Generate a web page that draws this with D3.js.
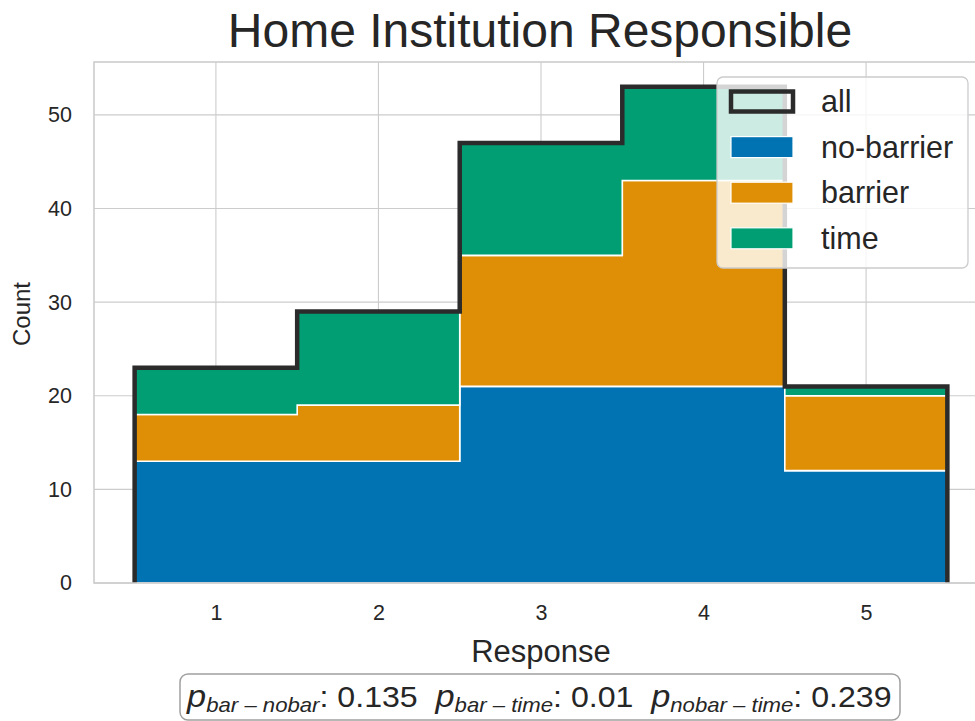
<!DOCTYPE html>
<html><head><meta charset="utf-8">
<script src="https://cdn.jsdelivr.net/npm/d3@7"></script>
<style>body{margin:0;background:#fff}svg{display:block}text{font-family:"Liberation Sans",Arial,sans-serif;fill:#262626}</style>
</head><body><svg id="c" width="975" height="721"></svg>
<script>
const categories = [1, 2, 3, 4, 5];
const noBarrier = [13, 13, 21, 21, 12];
const barrier = [5, 6, 14, 22, 8];
const time = [5, 10, 12, 10, 1];
const yTicks = [0, 10, 20, 30, 40, 50];
const seriesNames = ["no-barrier", "barrier", "time"];
const seriesColors = ["#0173b2", "#de8f05", "#029e73"];
const pLabels = [["bar – nobar", "0.135"], ["bar – time", "0.01"], ["nobar – time", "0.239"]];

const svg = d3.select("#c");
const L = 94, R = 988, T = 62, B = 583;
const totals = categories.map((c, i) => noBarrier[i] + barrier[i] + time[i]);
const x = d3.scaleLinear().domain([0.25, 5.75]).range([L, R]);
const y = d3.scaleLinear().domain([0, d3.max(totals) * 1.05]).range([B, T]);

// grid
const g = svg.append("g");
g.selectAll(".vg").data(categories).join("line").attr("x1", d => x(d)).attr("x2", d => x(d)).attr("y1", T).attr("y2", B).attr("stroke", "#cccccc").attr("stroke-width", 1.1);
g.selectAll(".hg").data(yTicks).join("line").attr("x1", L).attr("x2", R).attr("y1", d => y(d)).attr("y2", d => y(d)).attr("stroke", "#cccccc").attr("stroke-width", 1.1);

// stacked step areas
const stacked = d3.stack().keys([0, 1, 2]).value((d, k) => [noBarrier, barrier, time][k][d])(categories.map((c, i) => i));
function stepPts(vals) {
  const pts = [];
  categories.forEach((c, i) => { pts.push([c - 0.5, vals[i]]); pts.push([c + 0.5, vals[i]]); });
  return pts;
}
stacked.forEach((layer, k) => {
  const lo = stepPts(layer.map(d => d[0]));
  const hi = stepPts(layer.map(d => d[1]));
  const poly = hi.concat(lo.slice().reverse());
  svg.append("path")
    .attr("d", d3.line().x(p => x(p[0])).y(p => y(p[1]))(poly) + "Z")
    .attr("fill", seriesColors[k]).attr("stroke", "#ffffff").attr("stroke-width", 1.6).attr("stroke-linejoin", "miter");
});

// 'all' outline
const outline = [[categories[0] - 0.5, 0]].concat(stepPts(totals)).concat([[categories[categories.length - 1] + 0.5, 0]]);
svg.append("path").attr("d", d3.line().x(p => x(p[0])).y(p => y(p[1]))(outline))
  .attr("fill", "none").attr("stroke", "#2b2b2b").attr("stroke-width", 4.5).attr("stroke-linejoin", "miter");

// spines
svg.append("rect").attr("x", L).attr("y", T).attr("width", R - L).attr("height", B - T).attr("fill", "none").attr("stroke", "#cccccc").attr("stroke-width", 1.6);

// axes
const xAx = svg.append("g").attr("transform", `translate(0,${B})`).call(d3.axisBottom(x).tickValues(categories).tickSize(0).tickPadding(22).tickFormat(d3.format("d")));
xAx.select(".domain").remove();
xAx.selectAll("text").attr("font-size", 21.5).attr("fill", "#262626");
const yAx = svg.append("g").attr("transform", `translate(${L},0)`).call(d3.axisLeft(y).tickValues(yTicks).tickSize(0).tickPadding(22).tickFormat(d3.format("d")));
yAx.select(".domain").remove();
yAx.selectAll("text").attr("font-size", 21.5).attr("fill", "#262626");

// labels
svg.append("text").attr("x", 540).attr("y", 47).attr("text-anchor", "middle").attr("font-size", 48).text("Home Institution Responsible");
svg.append("text").attr("x", 541).attr("y", 662).attr("text-anchor", "middle").attr("font-size", 31).text("Response");
svg.append("text").attr("transform", "translate(30,314) rotate(-90)").attr("text-anchor", "middle").attr("font-size", 24).text("Count");

// legend
const lg = svg.append("g");
lg.append("rect").attr("x", 717).attr("y", 77).attr("width", 251).attr("height", 191).attr("rx", 6)
  .attr("fill", "#ffffff").attr("fill-opacity", 0.8).attr("stroke", "#cccccc").attr("stroke-width", 1.3);
const legItems = [{ name: "all", color: null }].concat(seriesNames.map((n, i) => ({ name: n, color: seriesColors[i] })));
legItems.forEach((it, i) => {
  const cy = 101.5 + i * 45.6;
  if (it.color === null) {
    lg.append("rect").attr("x", 731).attr("y", cy - 10).attr("width", 62).attr("height", 20).attr("fill", "none").attr("stroke", "#2b2b2b").attr("stroke-width", 4.5);
  } else {
    lg.append("rect").attr("x", 731).attr("y", cy - 10.5).attr("width", 62).attr("height", 21).attr("fill", it.color).attr("stroke", "#ffffff").attr("stroke-width", 1.2);
  }
  lg.append("text").attr("x", 821).attr("y", cy + 10.5).attr("font-size", 30.5).text(it.name);
});

// p-value annotation
const ann = svg.append("g");
ann.append("rect").attr("x", 180).attr("y", 674).attr("width", 720).attr("height", 46).attr("rx", 8)
  .attr("fill", "#ffffff").attr("stroke", "#a0a0a0").attr("stroke-width", 1.5);
const tg = ann.append("g");
const t = tg.append("text").attr("x", 0).attr("y", 0).attr("font-size", 29);
pLabels.forEach((p, i) => {
  t.append("tspan").attr("font-style", "italic").attr("font-size", 31).attr("y", 0).attr("dx", i ? 16 : 0).text("p");
  t.append("tspan").attr("font-style", "italic").attr("font-size", 20).attr("y", 5).text(p[0]);
  t.append("tspan").attr("y", 0).text(": " + p[1]);
});
// fit text into the box span (186..892)
const bb = t.node().getBBox();
const sx = (892 - 186) / bb.width;
tg.attr("transform", `translate(${186 - bb.x * sx},707) scale(${sx},1)`);
</script></body></html>
